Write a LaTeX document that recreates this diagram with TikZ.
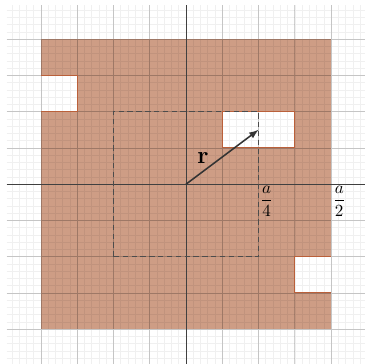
\documentclass[tikz,border=0pt]{standalone}
\usepackage{amsmath}
\usetikzlibrary{positioning}
\definecolor{plate}{RGB}{206,157,133}
\definecolor{rim}{RGB}{186,96,58}
\tikzset{
  minorgrid/.style={black, opacity=0.06, line width=0.3pt},
  majorgrid/.style={black, opacity=0.18, line width=0.4pt},
  holerim/.style={draw=rim, line width=0.6pt},
  axisline/.style={black!75, line width=0.45pt},
  fraclabel/.style={anchor=north west, inner sep=0.8pt},
}
\begin{document}
\begin{tikzpicture}[x=0.75cm, y=0.75cm]
    \useasboundingbox (-5.13,-4.95) rectangle (5.02,5.08);
    \fill[plate] (-4,-4) rectangle (4,4);
    \foreach \x/\y/\w in {-4/2/1, 1/1/2, 3/-3/1}
      \fill[white] (\x,\y) rectangle ++(\w,1);
    \draw[minorgrid] (-4.95,-4.95) grid[step=0.2] (4.95,4.95);
    \draw[majorgrid] (-4.95,-4.95) grid[step=1] (4.95,4.95);
    \draw[holerim] (-4,3) -- (-3,3) -- (-3,2) -- (-4,2);
    \draw[holerim] (1,1) rectangle (3,2);
    \draw[holerim] (4,-2) -- (3,-2) -- (3,-3) -- (4,-3);
    \draw[axisline] (-4.95,0) -- (4.95,0);
    \draw[axisline] (0,-4.95) -- (0,4.95);
    \draw[black!70, dash pattern=on 3.2pt off 2pt, line width=0.6pt] (-2,-2) rectangle (2,2);
    \coordinate (O) at (0,0);
    \coordinate (R) at (2,1.5);
    \draw[-latex, black!80, line width=0.9pt] (O) -- (R);
    \node (rlabel) at (0.47,0.72) {\Large$\mathbf{r}$};
    \node[fraclabel] (quarter) at (2,0) {$\dfrac{a}{4}$};
    \node[fraclabel] (half) at (4,0) {$\dfrac{a}{2}$};
  \end{tikzpicture}
\end{document}
